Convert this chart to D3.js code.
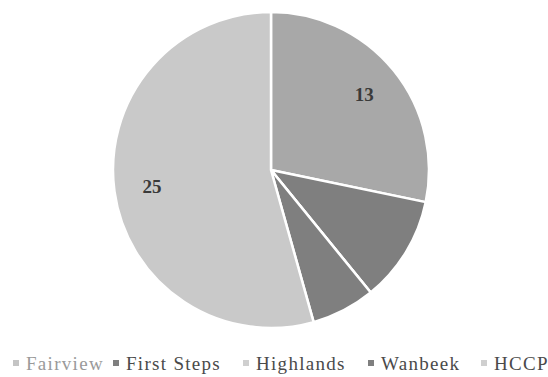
<!DOCTYPE html>
<html>
<head>
<meta charset="utf-8">
<script src="https://cdn.jsdelivr.net/npm/d3@7"></script>
<style>
  body { margin: 0; background: #fff; }
  #pie { width: 548px; height: 377px; }
</style>
</head>
<body>
<div id="pie"></div>
<script>
// data
var categories = ["Fairview", "First Steps", "Highlands", "Wanbeek", "HCCP"];
var values = [13, 5, 0, 3, 25];
var colors = ["#a8a8a8", "#7f7f7f", "#c9c9c9", "#7f7f7f", "#c9c9c9"];
var legendColors = ["#c4c4c4", "#7f7f7f", "#cfcfcf", "#7f7f7f", "#cfcfcf"];
var labelColors = ["#3a3a3a", "#ffffff", "#ffffff", "#ffffff", "#3a3a3a"];

var serif = "'Liberation Serif', 'DejaVu Serif', serif";

function paint() {
    d3.select("svg").remove();
    var width = 548, height = 377;
    var radius = 158;

    var svg = d3.select("#pie")
        .append("svg")
        .attr("width", width)
        .attr("height", height);

    var g = svg.append("g")
        .attr("transform", "translate(271,170)");

    var data = categories.map(function (c, i) {
        return { name: c, value: values[i], i: i };
    });

    var pie = d3.pie()
        .sort(null)
        .value(function (d) { return d.value; });

    var arc = d3.arc().innerRadius(0).outerRadius(radius);
    var labelArc = d3.arc().innerRadius(radius * 0.76).outerRadius(radius * 0.76);

    var arcs = pie(data);

    g.selectAll("path")
        .data(arcs)
        .enter()
        .append("path")
        .attr("d", arc)
        .style("fill", function (d) { return colors[d.data.i]; })
        .style("stroke", "#fff")
        .style("stroke-width", 2.5)
        .style("stroke-linejoin", "round");

    // only the two big slices show readable labels
    g.selectAll("text.lbl")
        .data(arcs.filter(function (d) { return d.data.value >= 10; }))
        .enter()
        .append("text")
        .attr("class", "lbl")
        .attr("transform", function (d) { return "translate(" + labelArc.centroid(d) + ")"; })
        .attr("dy", "0.35em")
        .style("font-family", serif)
        .style("text-anchor", "middle")
        .style("font-size", "19px")
        .style("font-weight", "bold")
        .style("fill", function (d) { return labelColors[d.data.i]; })
        .text(function (d) { return d.data.value; });

    // legend
    var legendX = [13, 113, 243, 368, 481];
    var legend = svg.append("g")
        .attr("transform", "translate(0,365)");

    var item = legend.selectAll("g")
        .data(data)
        .enter()
        .append("g")
        .attr("transform", function (d) { return "translate(" + legendX[d.i] + ",0)"; });

    item.append("rect")
        .attr("x", 0)
        .attr("y", -5)
        .attr("width", 6)
        .attr("height", 6)
        .style("fill", function (d) { return legendColors[d.i]; });

    item.append("text")
        .attr("x", 13)
        .attr("y", 5)
        .style("font-family", serif)
        .style("font-size", "19px")
        .style("letter-spacing", "1.3px")
        .style("fill", function (d) { return d.i === 0 ? "#9a9a9a" : "#4a4a4a"; })
        .text(function (d) { return d.name; });
}

paint();
</script>
</body>
</html>
